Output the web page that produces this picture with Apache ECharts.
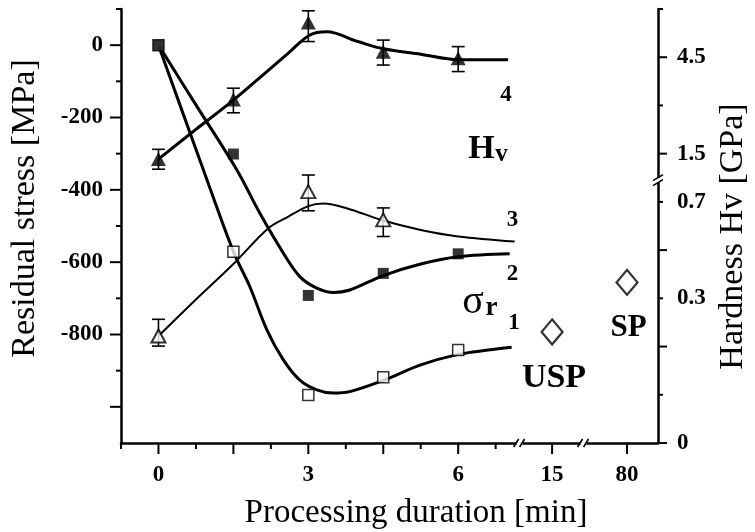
<!DOCTYPE html>
<html><head><meta charset="utf-8">
<script src="https://cdn.jsdelivr.net/npm/echarts@6/dist/echarts.min.js"></script>
<style>html,body{margin:0;padding:0;background:#fff}#c{width:755px;height:532px}</style>
</head><body><div id="c"></div>
<script>
// ---------- data ----------
const durations = [0, 1.5, 3, 4.5, 6];                 // min
const stress1   = [0, -571, -967, -918, -843];         // curve 1 (open squares)
const stress2   = [0, -301, -692, -631, -577];         // curve 2 (filled squares)
const hv3       = [-804, null, -405, -483, null];      // curve 3 (open triangles), plotted on stress scale
const hv3Lo     = [-832, null, -458, -529, null];
const hv3Hi     = [-758, null, -359, -450, null];
const hv4       = [-315, -150, 63, -18, -36];          // curve 4 (filled triangles)
const hv4Lo     = [-343, -187, 10, -55, -73];
const hv4Hi     = [-288, -119, 95, 14, -4];

// fitted curves
const fit1T = [0, 0.9, 1.5, 1.83, 2.17, 2.5, 2.83, 3.17, 3.5, 3.83, 4.5, 5.25, 6, 6.6, 7.07];
const fit1  = [0, -345, -571, -668, -787, -870, -926, -953, -962, -958, -927, -884, -855, -843, -835];
const fit2T = [0, 0.75, 1.57, 2.03, 2.5, 2.83, 3.17, 3.5, 3.83, 4.5, 5.25, 6, 7.03];
const fit2  = [0, -165, -345, -465, -575, -640, -672, -684, -677, -637, -605, -585, -577];
const fit3T = [0, 0.75, 1.5, 2.2, 2.6, 3.0, 3.3, 3.75, 4.5, 5.25, 6, 7.13];
const fit3  = [-804, -703, -605, -506, -474, -445, -438, -450, -485, -511, -529, -543];
const fit4T = [0, 0.75, 1.5, 2.17, 2.6, 3.03, 3.37, 3.99, 4.5, 5.25, 6, 7.0];
const fit4  = [-315, -233, -152, -73, -22, 28, 37, 10, -10, -25, -40, -40];

// long treatments (after the axis break)
const longDur    = [15, 80];
const longStress = [-793, -656];
const longNames  = ['USP', 'SP'];

// tick labels
const stressTickLabels = [0, -200, -400, -600, -800];
const durationTickLabels = [0, 3, 6, 15, 80];
const hardnessTickLabels = ['0', '0.3', '0.7', '1.5', '4.5'];
const hardnessTickSlots  = [0, 3, 5, 6, 8];

// compressed axis: where the broken durations sit on the x scale
const xBreakSlot = {15: 7.88, 80: 9.38};
const xPos = t => (t in xBreakSlot ? xBreakSlot[t] : t);
const xAxisBreaks = [7.23, 8.51];
const yAxisBreak = 5.45;

// tick layouts (axis values)
const xMajorTicks = [0, 1.5, 3, 4.5, 6, 7.88, 9.38];
const xMinorTicks = [-0.75, 0.75, 2.25, 3.75, 5.25, 6.75];
const yMajorTicks = [0, -200, -400, -600, -800, -1000];
const yMinorTicks = [100, -100, -300, -500, -700, -900];
const hMajorTicks = [0, 2, 4, 6, 8];
const hMinorTicks = [1, 3, 5, 7, 9];

// ---------- chart ----------
const FONT = '"Liberation Serif","Times New Roman",serif';
const chart = echarts.init(document.getElementById('c'));

const pairs = (xs, ys) => xs.map((x, i) => ys[i] == null ? null : [xPos(x), ys[i]]).filter(Boolean);
const errData = (lo, hi) => durations.map((x, i) => lo[i] == null ? null : [x, lo[i], hi[i]]).filter(Boolean);
const near = (v, arr) => arr.findIndex(a => Math.abs(a - v) < 1e-6);

function errRender(params, api) {
  const x = api.value(0), lo = api.value(1), hi = api.value(2);
  const a = api.coord([x, lo]), b = api.coord([x, hi]);
  const w = 6.5, st = {stroke: '#000', lineWidth: 1.6};
  return {type: 'group', children: [
    {type: 'line', shape: {x1: a[0], y1: a[1], x2: b[0], y2: b[1]}, style: st},
    {type: 'line', shape: {x1: a[0] - w, y1: a[1], x2: a[0] + w, y2: a[1]}, style: st},
    {type: 'line', shape: {x1: b[0] - w, y1: b[1], x2: b[0] + w, y2: b[1]}, style: st}
  ]};
}

const axisLineStyle = {color: '#000', width: 2.5};
const labelStyle = {color: '#000', fontFamily: FONT, fontWeight: 'bold', fontSize: 23};

const option = {
  animation: false,
  backgroundColor: '#fff',
  grid: {left: 121, right: 97, top: 9, bottom: 89},
  xAxis: {
    type: 'value', min: -0.75, max: 10,
    splitLine: {show: false},
    axisLine: {onZero: false, lineStyle: axisLineStyle},
    axisTick: {show: false},
    axisLabel: Object.assign({
      customValues: durationTickLabels.map(xPos),
      margin: 21,
      formatter: v => String(durationTickLabels[near(v, durationTickLabels.map(xPos))])
    }, labelStyle)
  },
  yAxis: [{
    type: 'value', min: -1100, max: 100, interval: 100, position: 'left',
    splitLine: {show: false},
    axisLine: {show: true, onZero: false, lineStyle: axisLineStyle},
    axisTick: {show: false},
    axisLabel: Object.assign({customValues: stressTickLabels, margin: 18,
      formatter: v => String(v)}, labelStyle)
  }, {
    type: 'value', min: 0, max: 9, interval: 1, position: 'right',
    splitLine: {show: false},
    axisLine: {show: true, onZero: false, lineStyle: axisLineStyle},
    axisTick: {show: false},
    axisLabel: Object.assign({customValues: hardnessTickSlots, margin: 19,
      formatter: v => hardnessTickLabels[near(v, hardnessTickSlots)]}, labelStyle)
  }],
  series: [
    {type: 'line', data: pairs(fit1T, fit1), smooth: 0.35, symbol: 'none', lineStyle: {color: '#000', width: 3}, z: 2},
    {type: 'line', data: pairs(fit2T, fit2), smooth: 0.35, symbol: 'none', lineStyle: {color: '#000', width: 3}, z: 2},
    {type: 'line', data: pairs(fit3T, fit3), smooth: 0.35, symbol: 'none', lineStyle: {color: '#000', width: 2}, z: 2},
    {type: 'line', data: pairs(fit4T, fit4), smooth: 0.35, symbol: 'none', lineStyle: {color: '#000', width: 3}, z: 2},
    {type: 'custom', data: errData(hv3Lo, hv3Hi), renderItem: errRender, z: 3},
    {type: 'custom', data: errData(hv4Lo, hv4Hi), renderItem: errRender, z: 3},
    {type: 'scatter', data: pairs(durations, stress1), symbol: 'rect', symbolSize: 11,
      itemStyle: {color: '#fff', borderColor: '#000', borderWidth: 1.5}, z: 4},
    {type: 'scatter', data: pairs(durations, stress2), symbol: 'rect', symbolSize: 11,
      itemStyle: {color: '#000'}, z: 5},
    {type: 'scatter', data: pairs(durations, hv3), symbol: 'triangle', symbolSize: [14, 13],
      itemStyle: {color: '#fff', borderColor: '#000', borderWidth: 2}, z: 4},
    {type: 'scatter', data: pairs(durations, hv4), symbol: 'triangle', symbolSize: [15, 14],
      itemStyle: {color: '#000'}, z: 4},
    {type: 'scatter', data: pairs(longDur, longStress), symbol: 'diamond', symbolSize: [21, 25],
      itemStyle: {color: '#fff', borderColor: '#000', borderWidth: 2.2}, z: 4}
  ]
};
chart.setOption(option);

// ---------- text, ticks and axis-break decorations ----------
const txt = (text, x, y, size, bold, extra) => Object.assign({
  type: 'text', x: x, y: y, z: 10,
  style: {text: text, fill: '#000', font: (bold ? 'bold ' : '') + size + 'px ' + FONT,
    align: 'center', verticalAlign: 'middle'}
}, extra || {});

const graphics = [
  txt('4', 506, 95.5, 23, true),
  txt('H', 481.5, 149.5, 34, true),
  txt('v', 501.5, 155, 25, true),
  txt('3', 512.5, 220, 23, true),
  txt('2', 512.5, 274, 23, true),
  txt('σ', 473, 302.5, 40, false),
  txt('r', 491.5, 308.5, 27, true),
  txt('1', 514, 323, 23, true),
  txt(longNames[0], 554, 378.5, 34, true),
  txt(longNames[1], 628.5, 328, 31, true),
  txt('Processing duration [min]', 416, 513, 33, false),
  txt('Residual stress [MPa]', 25, 208.5, 34, false, {rotation: Math.PI / 2}),
  txt('Hardness Hv [GPa]', 733, 236.5, 34, false, {rotation: Math.PI / 2})
];

// tick marks, positioned through the axes' scales
const tick = (x1, y1, x2, y2) => graphics.push({type: 'line', z: 100,
  shape: {x1: x1, y1: y1, x2: x2, y2: y2}, style: {stroke: '#000', lineWidth: 2}});
const xAt = v => chart.convertToPixel({xAxisIndex: 0}, v);
const yAt = v => chart.convertToPixel({yAxisIndex: 0}, v);
const hAt = v => chart.convertToPixel({yAxisIndex: 1}, v);
const xBase = yAt(-1100), yBase = xAt(-0.75), hBase = xAt(10);
xMajorTicks.forEach(v => tick(xAt(v), xBase, xAt(v), xBase + 11));
xMinorTicks.forEach(v => tick(xAt(v), xBase, xAt(v), xBase + 6));
yMajorTicks.forEach(v => tick(yBase, yAt(v), yBase - 11, yAt(v)));
yMinorTicks.forEach(v => tick(yBase, yAt(v), yBase - 5, yAt(v)));
hMajorTicks.forEach(v => tick(hBase, hAt(v), hBase + 9, hAt(v)));
hMinorTicks.forEach(v => tick(hBase, hAt(v), hBase + 5, hAt(v)));

xAxisBreaks.forEach(bx => {
  const px = xAt(bx), py = xBase;
  graphics.push({type: 'rect', z: 110, shape: {x: px - 3, y: py - 3, width: 6, height: 6}, style: {fill: '#fff'}});
  [-4, 2].forEach(d => graphics.push({type: 'line', z: 111,
    shape: {x1: px + d - 2, y1: py + 4, x2: px + d + 3, y2: py - 4}, style: {stroke: '#000', lineWidth: 1.6}}));
});
{
  const py = hAt(yAxisBreak), px = hBase;
  graphics.push({type: 'rect', z: 110, shape: {x: px - 3, y: py - 2, width: 6, height: 4}, style: {fill: '#fff'}});
  [-2.5, 2.5].forEach(d => graphics.push({type: 'line', z: 111,
    shape: {x1: px - 5, y1: py + d + 3, x2: px + 5, y2: py + d - 3}, style: {stroke: '#000', lineWidth: 1.6}}));
}
chart.setOption({graphic: graphics});
</script>
</body></html>
